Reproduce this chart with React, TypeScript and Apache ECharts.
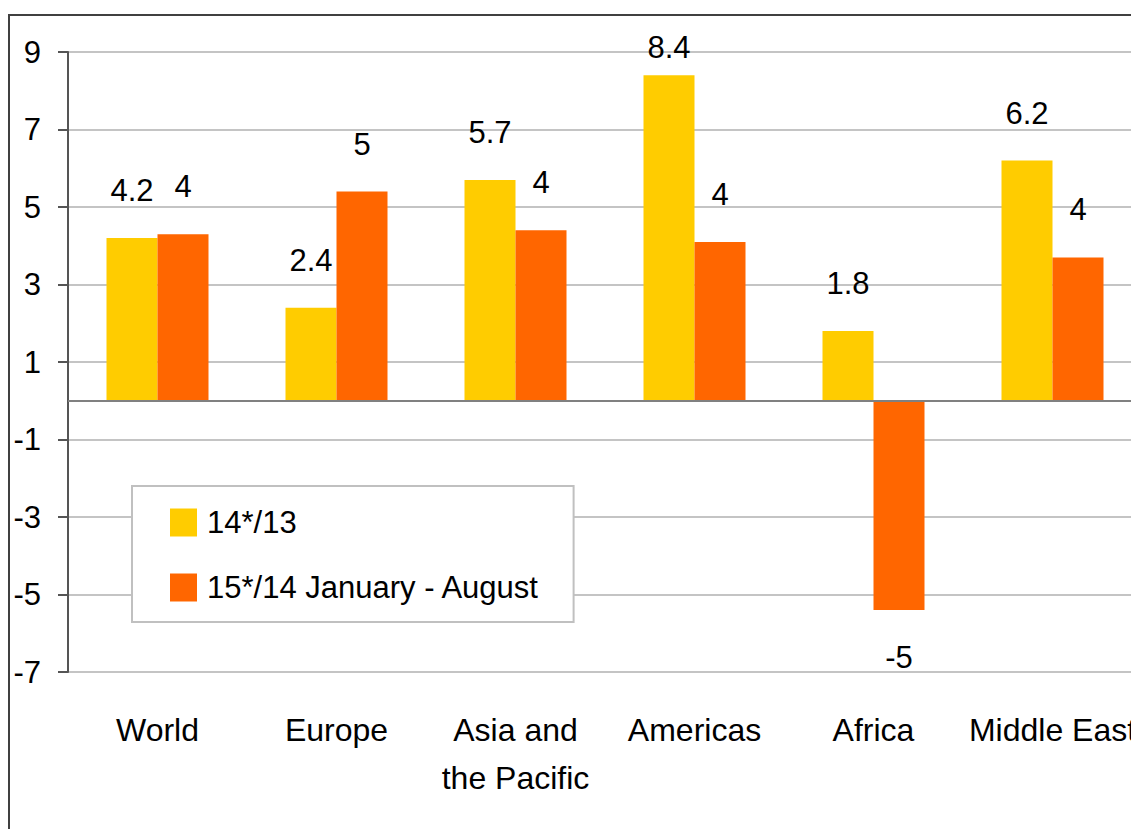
import React, { useEffect, useRef } from "react";
import * as echarts from "echarts";

const categories = ["World", "Europe", "Asia and\nthe Pacific", "Americas", "Africa", "Middle East"];
const seriesNames = ["14*/13", "15*/14 January - August"];
const values1413 = [4.2, 2.4, 5.7, 8.4, 1.8, 6.2];
const values1514 = [4.3, 5.4, 4.4, 4.1, -5.4, 3.7];
const labels1514 = ["4", "5", "4", "4", "-5", "4"];
const yTicks = { min: -7, max: 9, interval: 2 };

const FONT = "'Liberation Sans', Arial, sans-serif";
const CHART_W = 1150;

export default function App() {
  const ref = useRef<HTMLDivElement>(null);
  useEffect(() => {
    if (!ref.current) return;
    const chart = echarts.init(ref.current, null, { renderer: "svg" });
    const labelBase = {
      show: true,
      position: "outside" as any,
      distance: 32,
      fontSize: 31,
      color: "#000",
      fontFamily: FONT,
    };
    chart.setOption({
      animation: false,
      backgroundColor: "#fff",
      textStyle: { fontFamily: FONT },
      grid: { left: 68, top: 52, bottom: 157, right: CHART_W - 1142, containLabel: false },
      graphic: [
        {
          type: "rect",
          shape: { x: 9, y: 15, width: 1300, height: 1000 },
          style: { fill: "none", stroke: "#404040", lineWidth: 2 },
          silent: true,
          z: 100,
        },
      ],
      legend: {
        orient: "vertical",
        left: 132,
        top: 486,
        padding: [21, 34, 19, 38],
        backgroundColor: "#fff",
        borderColor: "#c0c0c0",
        borderWidth: 2,
        itemWidth: 27,
        itemHeight: 28,
        itemGap: 34,
        icon: "rect",
        textStyle: { fontSize: 31, color: "#000", fontFamily: FONT, padding: [0, 0, 0, 5] },
        data: seriesNames,
      },
      xAxis: {
        type: "category",
        data: categories,
        axisLine: { show: false },
        axisTick: { show: false },
        axisLabel: {
          fontSize: 32,
          lineHeight: 48,
          color: "#000",
          margin: 34,
          fontFamily: FONT,
          interval: 0,
        },
      },
      yAxis: {
        type: "value",
        min: yTicks.min,
        max: yTicks.max,
        interval: yTicks.interval,
        axisLine: { show: true, lineStyle: { color: "#555", width: 2 } },
        axisTick: { show: true, length: 10, lineStyle: { color: "#555", width: 2 } },
        splitLine: { show: true, lineStyle: { color: "#c4c4c4", width: 2 } },
        axisLabel: { fontSize: 31, color: "#000", margin: 27, fontFamily: FONT },
      },
      series: [
        {
          name: seriesNames[0],
          type: "bar",
          barWidth: 51,
          barGap: "0%",
          itemStyle: { color: "#FFCC00" },
          label: labelBase,
          data: values1413.map((v, i) =>
            i === 3 ? { value: v, label: { distance: 12 } } : v
          ),
        },
        {
          name: seriesNames[1],
          type: "bar",
          barWidth: 51,
          barGap: "0%",
          itemStyle: { color: "#FF6600" },
          label: { ...labelBase, formatter: (p: any) => labels1514[p.dataIndex] },
          data: values1514,
          markLine: {
            silent: true,
            symbol: "none",
            label: { show: false },
            lineStyle: { color: "#808080", width: 2, type: "solid" },
            data: [{ yAxis: 0 }],
          },
        },
      ],
    });
    return () => chart.dispose();
  }, []);
  return (
    <div
      style={{
        position: "absolute",
        left: 0,
        top: 0,
        width: 1131,
        height: 829,
        overflow: "hidden",
        background: "#fff",
      }}
    >
      <div ref={ref} style={{ width: CHART_W, height: 829 }} />
    </div>
  );
}
